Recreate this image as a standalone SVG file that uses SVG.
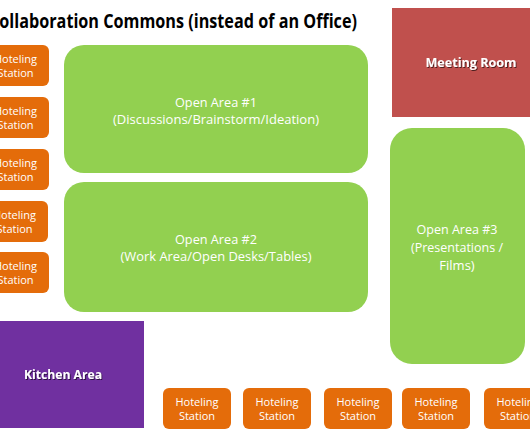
<svg xmlns="http://www.w3.org/2000/svg" width="530" height="442" viewBox="0 0 530 442">
<defs>
<style>
.t{font-family:"Open Sans","Liberation Sans",sans-serif;fill:#fff;text-anchor:middle}
.h{font-size:11px}
.o{font-size:13px}
.b{font-size:13px;font-weight:bold;filter:url(#sh)}
.station{fill:#E46C0A}
.open{fill:#92D050}
</style>
<filter id="sh" x="-10%" y="-30%" width="120%" height="160%">
<feDropShadow dx="1" dy="1" stdDeviation="0.6" flood-color="#000" flood-opacity="0.6"/>
</filter>
</defs>
<rect width="530" height="442" fill="#fff"/>
<text x="357" y="28" text-anchor="end" font-family="'Open Sans','Liberation Sans',sans-serif" font-weight="bold" font-size="19" fill="#000" textLength="368" lengthAdjust="spacingAndGlyphs">Collaboration Commons (instead of an Office)</text>

<g id="meeting-room">
<rect x="392" y="8" width="138" height="109" fill="#C0504D"/>
<text class="t b" x="471" y="67" textLength="91" lengthAdjust="spacingAndGlyphs">Meeting Room</text>
</g>
<g id="open-area-1">
<rect class="open" x="64" y="45" width="304" height="128" rx="20"/>
<text class="t o" x="216" y="107" textLength="82" lengthAdjust="spacingAndGlyphs">Open Area #1</text>
<text class="t o" x="216" y="124" textLength="206" lengthAdjust="spacingAndGlyphs">(Discussions/Brainstorm/Ideation)</text>
</g>
<g id="open-area-2">
<rect class="open" x="64" y="182" width="304" height="130" rx="20"/>
<text class="t o" x="216" y="244" textLength="82" lengthAdjust="spacingAndGlyphs">Open Area #2</text>
<text class="t o" x="216" y="261" textLength="191" lengthAdjust="spacingAndGlyphs">(Work Area/Open Desks/Tables)</text>
</g>
<g id="open-area-3">
<rect class="open" x="390" y="128" width="135" height="236" rx="22"/>
<text class="t o" x="457" y="234" textLength="81" lengthAdjust="spacingAndGlyphs">Open Area #3</text>
<text class="t o" x="457" y="252" textLength="92" lengthAdjust="spacingAndGlyphs">(Presentations /</text>
<text class="t o" x="457" y="270">Films)</text>
</g>
<g id="kitchen-area">
<rect x="-2" y="321" width="146" height="107" fill="#7030A0"/>
<text class="t b" x="63" y="379" textLength="78" lengthAdjust="spacingAndGlyphs">Kitchen Area</text>
</g>

<g id="station-l1"><rect class="station" x="-18" y="45" width="67" height="41" rx="6"/><text class="t h" x="15.5" y="63">Hoteling</text><text class="t h" x="15.5" y="77">Station</text></g>
<g id="station-l2"><rect class="station" x="-18" y="97" width="67" height="41" rx="6"/><text class="t h" x="15.5" y="115">Hoteling</text><text class="t h" x="15.5" y="129">Station</text></g>
<g id="station-l3"><rect class="station" x="-18" y="149" width="67" height="41" rx="6"/><text class="t h" x="15.5" y="167">Hoteling</text><text class="t h" x="15.5" y="181">Station</text></g>
<g id="station-l4"><rect class="station" x="-19" y="201" width="67" height="41" rx="6"/><text class="t h" x="14.5" y="219">Hoteling</text><text class="t h" x="14.5" y="233">Station</text></g>
<g id="station-l5"><rect class="station" x="-18" y="252" width="67" height="41" rx="6"/><text class="t h" x="15.5" y="270">Hoteling</text><text class="t h" x="15.5" y="284">Station</text></g>

<g id="station-b1"><rect class="station" x="163" y="388" width="68" height="41" rx="6"/><text class="t h" x="197" y="406">Hoteling</text><text class="t h" x="197" y="420">Station</text></g>
<g id="station-b2"><rect class="station" x="243" y="388" width="68" height="41" rx="6"/><text class="t h" x="277" y="406">Hoteling</text><text class="t h" x="277" y="420">Station</text></g>
<g id="station-b3"><rect class="station" x="324" y="388" width="68" height="41" rx="6"/><text class="t h" x="358" y="406">Hoteling</text><text class="t h" x="358" y="420">Station</text></g>
<g id="station-b4"><rect class="station" x="402" y="388" width="68" height="41" rx="6"/><text class="t h" x="436" y="406">Hoteling</text><text class="t h" x="436" y="420">Station</text></g>
<g id="station-b5"><rect class="station" x="484" y="388" width="68" height="41" rx="6"/><text class="t h" x="518" y="406">Hoteling</text><text class="t h" x="518" y="420">Station</text></g>
<g id="connectors"/>
</svg>
